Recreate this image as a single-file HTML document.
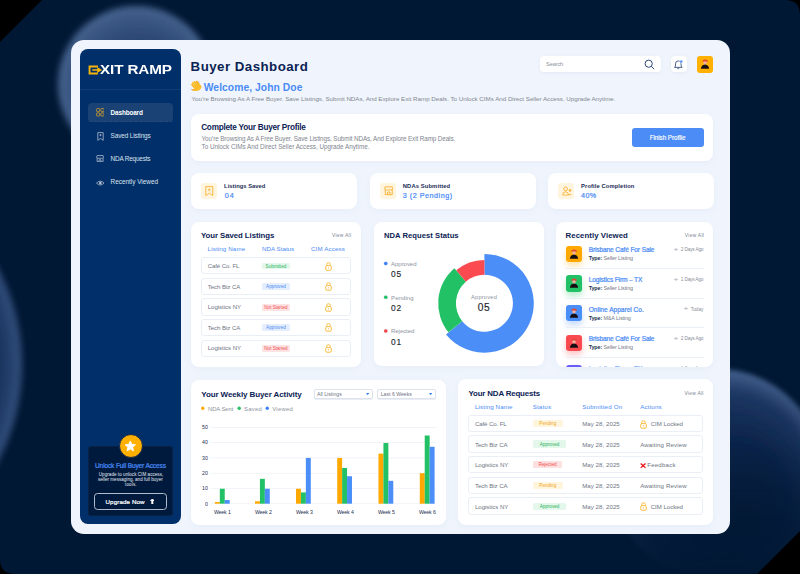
<!DOCTYPE html>
<html><head><meta charset="utf-8">
<style>
*{margin:0;padding:0;box-sizing:border-box}
html,body{width:800px;height:574px;overflow:hidden;background:#000}
body{font-family:"Liberation Sans",sans-serif;position:relative}
.a{position:absolute}
.t{position:absolute;white-space:nowrap;line-height:1}
</style></head>
<body>
<svg class="a" style="left:0;top:0" width="800" height="574" viewBox="0 0 800 574">
<defs>
<radialGradient id="g1" cx="0.5" cy="0.5" r="0.5" fx="0.6" fy="0.7">
<stop offset="0" stop-color="#132f5b"/><stop offset="0.55" stop-color="#213d6a"/><stop offset="0.85" stop-color="#37537f"/><stop offset="1" stop-color="#46638f"/>
</radialGradient>
<radialGradient id="g2" cx="0.5" cy="0.5" r="0.5">
<stop offset="0" stop-color="#071c3e"/><stop offset="0.8" stop-color="#0c2449"/><stop offset="0.93" stop-color="#213c68"/><stop offset="1" stop-color="#34507e"/>
</radialGradient>
<radialGradient id="g3" cx="0.5" cy="0.5" r="0.5" fx="0.66" fy="0.72">
<stop offset="0" stop-color="#08203f"/><stop offset="0.5" stop-color="#0e2751"/><stop offset="0.85" stop-color="#203b68"/><stop offset="1" stop-color="#45628f"/>
</radialGradient>
<filter id="bl" x="-20%" y="-20%" width="140%" height="140%"><feGaussianBlur stdDeviation="3"/></filter>
<linearGradient id="m3g" x1="0" y1="369" x2="0" y2="575" gradientUnits="userSpaceOnUse"><stop offset="0" stop-color="#fff"/><stop offset="0.35" stop-color="#fff" stop-opacity="0.75"/><stop offset="0.75" stop-color="#fff" stop-opacity="0.15"/><stop offset="1" stop-color="#fff" stop-opacity="0"/></linearGradient>
<mask id="m3" maskUnits="userSpaceOnUse" x="0" y="0" width="800" height="574"><rect width="800" height="574" fill="url(#m3g)"/></mask>
<filter id="bl2" x="-20%" y="-20%" width="140%" height="140%"><feGaussianBlur stdDeviation="2.8"/></filter>
<clipPath id="bgc"><path d="M42 0 H785 Q800 0 800 15 V531 L757 574 H15 Q0 574 0 559 V42 Z"/></clipPath>
</defs>
<g clip-path="url(#bgc)">
<rect width="800" height="574" fill="#011834"/>
<circle cx="136" cy="84" r="78" fill="url(#g1)" filter="url(#bl)"/>
<circle cx="-183" cy="365" r="205" fill="url(#g2)" filter="url(#bl)"/>
<g mask="url(#m3)"><circle cx="717" cy="475" r="106" fill="url(#g3)" filter="url(#bl2)"/></g>
</g></svg>
<div class="a" style="left:70.5px;top:40.3px;width:659.5px;height:493.3px;background:#f0f5fd;border-radius:13px"></div>
<div class="a" style="left:80px;top:49.3px;width:101.2px;height:475px;background:#012f69;border-radius:8px"></div>
<div class="a" style="left:80px;top:89.2px;width:101.2px;height:0.9px;background:#113a76"></div>
<svg class="a" style="left:87.5px;top:64.5px" width="15" height="10" viewBox="0 0 15 10">
<path d="M0.6 0.5 H9.9 V2.4 H2.5 V7.6 H9.9 V9.6 H0.6 Z" fill="#f7b50c"/>
<path d="M4.3 4.25 H9.2 V2.1 L14.1 5.05 L9.2 8 V5.85 H4.3 Z" fill="#f7b50c"/>
</svg>
<div class="t" style="left:99.6px;top:64px;font-size:12.7px;font-weight:bold;color:#fff;transform:scaleX(1.2);transform-origin:0 0;letter-spacing:-0.1px">XIT RAMP</div>
<svg class="a" style="left:190px;top:80px" width="13" height="12" viewBox="0 0 13 12">
<g transform="rotate(-40 6.5 6.5)">
<rect x="3.4" y="1.2" width="1.9" height="6" rx="0.95" fill="#f9b827"/>
<rect x="5.2" y="0.4" width="1.9" height="6.5" rx="0.95" fill="#fcc232"/>
<rect x="7.0" y="0.9" width="1.9" height="6" rx="0.95" fill="#f9b827"/>
<rect x="8.8" y="2.0" width="1.8" height="5" rx="0.9" fill="#f7b020"/>
<ellipse cx="7" cy="8" rx="3.6" ry="3.2" fill="#fbbd2c"/>
<rect x="1.5" y="5.5" width="1.8" height="4.2" rx="0.9" transform="rotate(-45 2.4 7.6)" fill="#f7b020"/>
</g>
<path d="M8.2 1.2 L9.5 2.4" stroke="#8c9cb3" stroke-width="0.7"/>
<path d="M1 8.8 L2.2 10" stroke="#8c9cb3" stroke-width="0.7"/>
</svg>
<div class="a" style="left:88px;top:102.8px;width:85px;height:19px;background:#1a4275;border-radius:4px"></div>
<div class="a" style="left:88.5px;top:121.2px;width:84px;height:0;border-top:0.6px dashed #48669a;opacity:0.22"></div>
<svg class="a" style="left:95.6px;top:108.3px" width="8.6" height="8.6" viewBox="0 0 9 9" fill="none" stroke="#d9a22a" stroke-width="0.85">
<rect x="0.6" y="0.6" width="3.3" height="3.3" rx="0.9"/><rect x="5.1" y="0.6" width="3.3" height="3.3" rx="0.9"/>
<rect x="0.6" y="5.1" width="3.3" height="3.3" rx="0.9"/><rect x="5.1" y="5.1" width="3.3" height="3.3" rx="0.9"/></svg>
<svg class="a" style="left:96.6px;top:131.6px" width="7" height="9" viewBox="0 0 7 9" fill="none" stroke="#bcc6d8" stroke-width="0.75">
<path d="M0.8 0.6 H6.2 V8.3 L3.5 6.4 L0.8 8.3 Z"/><path d="M3.5 2 V4.2 M2.4 3.1 H4.6" stroke-width="0.65"/></svg>
<svg class="a" style="left:96.1px;top:154.8px" width="8.4" height="7.4" viewBox="0 0 9 8" fill="none" stroke="#bcc6d8" stroke-width="0.8">
<path d="M1.2 0.6 H7.6 L8.4 2.6 Q7.8 3.8 6.6 3.4 Q5.6 3.9 4.4 3.4 Q3.2 3.9 2.2 3.4 Q1 3.8 0.5 2.6 Z"/><path d="M1.2 3.4 V7.4 H7.6 V3.4"/><path d="M3.2 7.4 V5.2 H5.4 V7.4"/></svg>
<svg class="a" style="left:95.8px;top:179.6px" width="8.6" height="6.2" viewBox="0 0 9 6.5" fill="none" stroke="#bcc6d8" stroke-width="0.75">
<path d="M0.5 3.25 Q4.5 -0.9 8.5 3.25 Q4.5 7.4 0.5 3.25 Z"/><circle cx="4.5" cy="3.25" r="1.1" fill="#bcc6d8"/></svg>
<div class="a" style="left:88px;top:445.8px;width:85.2px;height:70.4px;background:#001a3d;border-radius:4px;box-shadow:inset 0 0 0 1px #0a2246"></div>
<div class="a" style="left:118.5px;top:434px;width:24.2px;height:24.2px;background:#ffb000;border-radius:50%;border:0.8px solid #0d2552"></div>
<svg class="a" style="left:124.3px;top:439.6px" width="12.6" height="12.6" viewBox="0 0 24 24"><path d="M12 1.8 L14.9 8.3 L22 9 L16.6 13.7 L18.2 20.8 L12 17.1 L5.8 20.8 L7.4 13.7 L2 9 L9.1 8.3 Z" fill="#fff" stroke="#fff" stroke-width="1.6" stroke-linejoin="round"/></svg>
<div class="a" style="left:94.2px;top:493.2px;width:73px;height:16.5px;border:1.1px solid #b3bdcc;border-radius:3.5px"></div>
<svg class="a" style="left:149.8px;top:499px" width="4.6" height="5" viewBox="0 0 4.6 5"><path d="M2.3 0.1 Q3.6 0.4 4.4 1.6 Q4.4 2 3.9 2 H3.3 V4.9 H1.3 V2 H0.7 Q0.2 2 0.2 1.6 Q1 0.4 2.3 0.1Z" fill="#fff"/></svg>
<div class="a" style="left:539.5px;top:56.1px;width:121.3px;height:16.2px;background:#fff;border-radius:4px;box-shadow:0 1px 4px rgba(60,90,150,0.08)"></div>
<svg class="a" style="left:643.5px;top:58.5px" width="11" height="11" viewBox="0 0 11 11" fill="none" stroke="#2d4a7a" stroke-width="1"><circle cx="4.7" cy="4.7" r="3.6"/><path d="M7.4 7.4 L9.9 9.9" stroke-linecap="round"/></svg>
<div class="a" style="left:670.8px;top:56.1px;width:16.2px;height:16.2px;background:#fff;border-radius:4px;box-shadow:0 1px 4px rgba(60,90,150,0.08)"></div>
<svg class="a" style="left:673.3px;top:58.6px" width="11" height="11" viewBox="0 0 11 11" fill="none" stroke="#2d4a7a" stroke-width="0.85" stroke-linejoin="round"><path d="M5.3 1.9 Q2.5 1.9 2.5 5 V7 L1.5 8.4 H9.1 L8.1 7 V5 Q8.1 1.9 5.3 1.9 Z"/><path d="M4.3 9.2 Q5.3 10.4 6.3 9.2"/><circle cx="8.2" cy="2.6" r="1.5" fill="#4a8bf5" stroke="#fff" stroke-width="0.5"/></svg>
<div class="a" style="left:697.2px;top:56px;width:16.3px;height:16.5px;background:#ffb000;border-radius:3px"></div>
<svg class="a" style="left:700.40px;top:59.20px" width="10.00" height="10.00" viewBox="0 0 10 10"><path d="M0.9 9.8 Q1.1 5.9 5 5.7 Q8.9 5.9 9.1 9.8 Z" fill="#160c12"/><path d="M4.2 5.2 H5.8 V6.2 H4.2Z" fill="#2a3d5c"/><circle cx="5" cy="3.7" r="1.8" fill="#f2b0a0"/><path d="M2.2 2.9 Q2.4 0.5 5.1 0.6 Q8 0.7 7.9 3.1 Q7 2.2 6 2.5 Q4.8 1.8 3.8 2.6 Q3 2.3 2.2 2.9 Z" fill="#e4463a"/></svg>
<div class="a" style="left:191px;top:113.8px;width:522px;height:47.2px;background:#fff;border-radius:8px;box-shadow:0 2px 8px rgba(60,90,150,0.05)"></div>
<div class="a" style="left:632px;top:128px;width:71.5px;height:18.6px;background:#4c8cf6;border-radius:3px"></div>
<div class="a" style="left:191.3px;top:172.7px;width:165.9px;height:36.8px;background:#fff;border-radius:8px;box-shadow:0 2px 8px rgba(60,90,150,0.05)"></div>
<div class="a" style="left:369.8px;top:172.7px;width:165.9px;height:36.8px;background:#fff;border-radius:8px;box-shadow:0 2px 8px rgba(60,90,150,0.05)"></div>
<div class="a" style="left:547.9px;top:172.7px;width:165.9px;height:36.8px;background:#fff;border-radius:8px;box-shadow:0 2px 8px rgba(60,90,150,0.05)"></div>
<div class="a" style="left:201.0px;top:182.8px;width:16.4px;height:16.3px;background:#fff4de;border-radius:3px"></div>
<div class="a" style="left:380.0px;top:182.8px;width:16.4px;height:16.3px;background:#fff4de;border-radius:3px"></div>
<div class="a" style="left:558.0px;top:182.8px;width:16.4px;height:16.3px;background:#fff4de;border-radius:3px"></div>
<svg class="a" style="left:205px;top:186px" width="8.5" height="10.5" viewBox="0 0 8.5 10.5" fill="none" stroke="#f8b335" stroke-width="0.9"><path d="M0.8 0.6 H7.7 V9.6 L4.25 7.2 L0.8 9.6 Z"/><path d="M4.25 2.4 V5.2 M2.9 3.8 H5.6" stroke-width="0.8"/></svg>
<svg class="a" style="left:383.5px;top:186.3px" width="9.5" height="9.5" viewBox="0 0 9 9" fill="none" stroke="#f8b335" stroke-width="0.9"><path d="M1.2 0.8 H7.8 L8.5 2.8 Q7.9 4 6.7 3.6 Q5.7 4.1 4.5 3.6 Q3.3 4.1 2.3 3.6 Q1.1 4 0.5 2.8 Z"/><path d="M1.2 3.6 V8.2 H7.8 V3.6"/><path d="M3.3 8.2 V5.8 H5.7 V8.2"/></svg>
<svg class="a" style="left:561.8px;top:186.4px" width="10" height="10" viewBox="0 0 10 10" fill="none" stroke="#f8b335" stroke-width="0.9"><circle cx="3.6" cy="2.9" r="1.9"/><path d="M0.6 9 Q0.8 5.8 3.6 5.8 Q6.4 5.8 6.6 9 Z"/><circle cx="8" cy="4.4" r="0.9" fill="#f8b335"/><path d="M6.9 8.6 H9.4" stroke-width="0.9"/></svg>
<div class="a" style="left:191px;top:222px;width:170px;height:144.8px;background:#fff;border-radius:8px;box-shadow:0 2px 8px rgba(60,90,150,0.05)"></div>
<div class="a" style="left:373.6px;top:222px;width:170.2px;height:144.4px;background:#fff;border-radius:8px;box-shadow:0 2px 8px rgba(60,90,150,0.05)"></div>
<div class="a" style="left:556px;top:222px;width:157.4px;height:144.8px;background:#fff;border-radius:8px;box-shadow:0 2px 8px rgba(60,90,150,0.05)"></div>
<div class="a" style="left:201.25px;top:257.30px;width:150.2px;height:17.2px;border:0.9px solid #eaeef6;border-radius:3px"></div>
<div class="a" style="left:262.1px;top:262.75px;width:27.65px;height:6.7px;background:#e3f8ea;border-radius:1.5px"></div>
<div class="t" style="left:262.1px;top:265px;width:27.65px;text-align:center;font-size:4.6px;color:#2bb25f">Submitted</div>
<svg class="a" style="left:324.60px;top:261.65px" width="7" height="9" viewBox="0 0 7 9"><path d="M1.7 3.6 V2.5 A1.8 1.8 0 0 1 5.3 2.5 V3.6" fill="none" stroke="#f9b93a" stroke-width="0.95"/><rect x="0.75" y="3.6" width="5.5" height="4.6" rx="1" fill="none" stroke="#f9b93a" stroke-width="0.95"/><circle cx="3.5" cy="5.8" r="0.6" fill="#f9b93a"/></svg>
<div class="a" style="left:201.25px;top:277.85px;width:150.2px;height:17.2px;border:0.9px solid #eaeef6;border-radius:3px"></div>
<div class="a" style="left:262.1px;top:283.30px;width:27.65px;height:6.7px;background:#e4eefd;border-radius:1.5px"></div>
<div class="t" style="left:262.1px;top:285px;width:27.65px;text-align:center;font-size:4.6px;color:#4a8bf5">Approved</div>
<svg class="a" style="left:324.60px;top:282.20px" width="7" height="9" viewBox="0 0 7 9"><path d="M1.7 3.6 V2.5 A1.8 1.8 0 0 1 5.3 2.5 V3.6" fill="none" stroke="#f9b93a" stroke-width="0.95"/><rect x="0.75" y="3.6" width="5.5" height="4.6" rx="1" fill="none" stroke="#f9b93a" stroke-width="0.95"/><circle cx="3.5" cy="5.8" r="0.6" fill="#f9b93a"/></svg>
<div class="a" style="left:201.25px;top:298.40px;width:150.2px;height:17.2px;border:0.9px solid #eaeef6;border-radius:3px"></div>
<div class="a" style="left:262.1px;top:303.85px;width:27.65px;height:6.7px;background:#fde3e3;border-radius:1.5px"></div>
<div class="t" style="left:262.1px;top:306px;width:27.65px;text-align:center;font-size:4.6px;color:#f05050">Not Started</div>
<svg class="a" style="left:324.60px;top:302.75px" width="7" height="9" viewBox="0 0 7 9"><path d="M1.7 3.6 V2.5 A1.8 1.8 0 0 1 5.3 2.5 V3.6" fill="none" stroke="#f9b93a" stroke-width="0.95"/><rect x="0.75" y="3.6" width="5.5" height="4.6" rx="1" fill="none" stroke="#f9b93a" stroke-width="0.95"/><circle cx="3.5" cy="5.8" r="0.6" fill="#f9b93a"/></svg>
<div class="a" style="left:201.25px;top:318.95px;width:150.2px;height:17.2px;border:0.9px solid #eaeef6;border-radius:3px"></div>
<div class="a" style="left:262.1px;top:324.40px;width:27.65px;height:6.7px;background:#e4eefd;border-radius:1.5px"></div>
<div class="t" style="left:262.1px;top:326px;width:27.65px;text-align:center;font-size:4.6px;color:#4a8bf5">Approved</div>
<svg class="a" style="left:324.60px;top:323.30px" width="7" height="9" viewBox="0 0 7 9"><path d="M1.7 3.6 V2.5 A1.8 1.8 0 0 1 5.3 2.5 V3.6" fill="none" stroke="#f9b93a" stroke-width="0.95"/><rect x="0.75" y="3.6" width="5.5" height="4.6" rx="1" fill="none" stroke="#f9b93a" stroke-width="0.95"/><circle cx="3.5" cy="5.8" r="0.6" fill="#f9b93a"/></svg>
<div class="a" style="left:201.25px;top:339.50px;width:150.2px;height:17.2px;border:0.9px solid #eaeef6;border-radius:3px"></div>
<div class="a" style="left:262.1px;top:344.95px;width:27.65px;height:6.7px;background:#fde3e3;border-radius:1.5px"></div>
<div class="t" style="left:262.1px;top:347px;width:27.65px;text-align:center;font-size:4.6px;color:#f05050">Not Started</div>
<svg class="a" style="left:324.60px;top:343.85px" width="7" height="9" viewBox="0 0 7 9"><path d="M1.7 3.6 V2.5 A1.8 1.8 0 0 1 5.3 2.5 V3.6" fill="none" stroke="#f9b93a" stroke-width="0.95"/><rect x="0.75" y="3.6" width="5.5" height="4.6" rx="1" fill="none" stroke="#f9b93a" stroke-width="0.95"/><circle cx="3.5" cy="5.8" r="0.6" fill="#f9b93a"/></svg>
<svg class="a" style="left:0;top:0;overflow:visible" width="800" height="574">
<path d="M484.40 253.90 A49.4 49.4 0 1 1 446.01 334.39 L462.25 321.24 A28.5 28.5 0 1 0 484.40 274.80 Z" fill="#4b8ef8"/>
<path d="M448.50 332.37 A46.2 46.2 0 0 1 454.40 268.17 L465.89 281.63 A28.5 28.5 0 0 0 462.25 321.24 Z" fill="#23c166"/>
<path d="M456.21 270.30 A43.4 43.4 0 0 1 484.40 259.90 L484.40 274.80 A28.5 28.5 0 0 0 465.89 281.63 Z" fill="#fb4b50"/>
<circle cx="385.75" cy="263.5" r="2.4" fill="#eef2f8"/><circle cx="385.75" cy="263.5" r="1.8" fill="#3f82f5"/>
<circle cx="385.75" cy="297.25" r="2.4" fill="#eef2f8"/><circle cx="385.75" cy="297.25" r="1.8" fill="#23c166"/>
<circle cx="385.75" cy="331" r="2.4" fill="#eef2f8"/><circle cx="385.75" cy="331" r="1.8" fill="#f24545"/>
</svg>
<div class="a" style="left:556px;top:222px;width:157.4px;height:144.8px;overflow:hidden;border-radius:8px">
<div class="a" style="left:10.2px;top:23.70px;width:16.2px;height:16.2px;background:#ffa800;border-radius:3px;box-shadow:0 4px 6px #ffa80050"></div>
<svg class="a" style="left:13.30px;top:26.60px" width="10.00" height="10.00" viewBox="0 0 10 10"><path d="M0.9 9.8 Q1.1 5.9 5 5.7 Q8.9 5.9 9.1 9.8 Z" fill="#160c12"/><path d="M4.2 5.2 H5.8 V6.2 H4.2Z" fill="#2a3d5c"/><circle cx="5" cy="3.7" r="1.8" fill="#f2b0a0"/><path d="M2.2 2.9 Q2.4 0.5 5.1 0.6 Q8 0.7 7.9 3.1 Q7 2.2 6 2.5 Q4.8 1.8 3.8 2.6 Q3 2.3 2.2 2.9 Z" fill="#e4463a"/></svg>
<div class="a" style="left:10px;top:45.80px;width:137.6px;height:0.8px;background:#eaeef6"></div>
<svg class="a" style="left:118.20px;top:25.90px" width="4" height="3" viewBox="0 0 4 3" fill="none" stroke="#a3aab6" stroke-width="0.55"><path d="M0.3 1.5 Q2 -0.3 3.7 1.5 Q2 3.3 0.3 1.5 Z"/><circle cx="2" cy="1.5" r="0.55" fill="#a3aab6" stroke="none"/></svg>
<div class="a" style="left:10.2px;top:53.40px;width:16.2px;height:16.2px;background:#23c166;border-radius:3px;box-shadow:0 4px 6px #23c16650"></div>
<svg class="a" style="left:13.30px;top:56.30px" width="10.00" height="10.00" viewBox="0 0 10 10"><path d="M0.9 9.8 Q1.1 5.9 5 5.7 Q8.9 5.9 9.1 9.8 Z" fill="#160c12"/><path d="M4.2 5.2 H5.8 V6.2 H4.2Z" fill="#2a3d5c"/><circle cx="5" cy="3.7" r="1.8" fill="#f2b0a0"/><path d="M2.2 2.9 Q2.4 0.5 5.1 0.6 Q8 0.7 7.9 3.1 Q7 2.2 6 2.5 Q4.8 1.8 3.8 2.6 Q3 2.3 2.2 2.9 Z" fill="#e4463a"/></svg>
<div class="a" style="left:10px;top:75.50px;width:137.6px;height:0.8px;background:#eaeef6"></div>
<svg class="a" style="left:117.80px;top:55.60px" width="4" height="3" viewBox="0 0 4 3" fill="none" stroke="#a3aab6" stroke-width="0.55"><path d="M0.3 1.5 Q2 -0.3 3.7 1.5 Q2 3.3 0.3 1.5 Z"/><circle cx="2" cy="1.5" r="0.55" fill="#a3aab6" stroke="none"/></svg>
<div class="a" style="left:10.2px;top:83.10px;width:16.2px;height:16.2px;background:#4a8ef7;border-radius:3px;box-shadow:0 4px 6px #4a8ef750"></div>
<svg class="a" style="left:13.30px;top:86.00px" width="10.00" height="10.00" viewBox="0 0 10 10"><path d="M0.9 9.8 Q1.1 5.9 5 5.7 Q8.9 5.9 9.1 9.8 Z" fill="#160c12"/><path d="M4.2 5.2 H5.8 V6.2 H4.2Z" fill="#2a3d5c"/><circle cx="5" cy="3.7" r="1.8" fill="#f2b0a0"/><path d="M2.2 2.9 Q2.4 0.5 5.1 0.6 Q8 0.7 7.9 3.1 Q7 2.2 6 2.5 Q4.8 1.8 3.8 2.6 Q3 2.3 2.2 2.9 Z" fill="#e4463a"/></svg>
<div class="a" style="left:10px;top:105.20px;width:137.6px;height:0.8px;background:#eaeef6"></div>
<svg class="a" style="left:128.00px;top:85.30px" width="4" height="3" viewBox="0 0 4 3" fill="none" stroke="#a3aab6" stroke-width="0.55"><path d="M0.3 1.5 Q2 -0.3 3.7 1.5 Q2 3.3 0.3 1.5 Z"/><circle cx="2" cy="1.5" r="0.55" fill="#a3aab6" stroke="none"/></svg>
<div class="a" style="left:10.2px;top:112.80px;width:16.2px;height:16.2px;background:#f94b4f;border-radius:3px;box-shadow:0 4px 6px #f94b4f50"></div>
<svg class="a" style="left:13.30px;top:115.70px" width="10.00" height="10.00" viewBox="0 0 10 10"><path d="M0.9 9.8 Q1.1 5.9 5 5.7 Q8.9 5.9 9.1 9.8 Z" fill="#160c12"/><path d="M4.2 5.2 H5.8 V6.2 H4.2Z" fill="#2a3d5c"/><circle cx="5" cy="3.7" r="1.8" fill="#f2b0a0"/><path d="M2.2 2.9 Q2.4 0.5 5.1 0.6 Q8 0.7 7.9 3.1 Q7 2.2 6 2.5 Q4.8 1.8 3.8 2.6 Q3 2.3 2.2 2.9 Z" fill="#e4463a"/></svg>
<div class="a" style="left:10px;top:134.90px;width:137.6px;height:0.8px;background:#eaeef6"></div>
<svg class="a" style="left:118.20px;top:115.00px" width="4" height="3" viewBox="0 0 4 3" fill="none" stroke="#a3aab6" stroke-width="0.55"><path d="M0.3 1.5 Q2 -0.3 3.7 1.5 Q2 3.3 0.3 1.5 Z"/><circle cx="2" cy="1.5" r="0.55" fill="#a3aab6" stroke="none"/></svg>
<div class="a" style="left:10.2px;top:142.50px;width:16.2px;height:16.2px;background:#6a5cf6;border-radius:3px;box-shadow:0 4px 6px #6a5cf650"></div>
<svg class="a" style="left:13.30px;top:145.40px" width="10.00" height="10.00" viewBox="0 0 10 10"><path d="M0.9 9.8 Q1.1 5.9 5 5.7 Q8.9 5.9 9.1 9.8 Z" fill="#160c12"/><path d="M4.2 5.2 H5.8 V6.2 H4.2Z" fill="#2a3d5c"/><circle cx="5" cy="3.7" r="1.8" fill="#f2b0a0"/><path d="M2.2 2.9 Q2.4 0.5 5.1 0.6 Q8 0.7 7.9 3.1 Q7 2.2 6 2.5 Q4.8 1.8 3.8 2.6 Q3 2.3 2.2 2.9 Z" fill="#e4463a"/></svg>
<svg class="a" style="left:117.80px;top:144.70px" width="4" height="3" viewBox="0 0 4 3" fill="none" stroke="#a3aab6" stroke-width="0.55"><path d="M0.3 1.5 Q2 -0.3 3.7 1.5 Q2 3.3 0.3 1.5 Z"/><circle cx="2" cy="1.5" r="0.55" fill="#a3aab6" stroke="none"/></svg>
</div>
<div class="a" style="left:191px;top:379.5px;width:255px;height:145.1px;background:#fff;border-radius:8px;box-shadow:0 2px 8px rgba(60,90,150,0.05)"></div>
<div class="a" style="left:458.3px;top:379.4px;width:255.1px;height:145.3px;background:#fff;border-radius:8px;box-shadow:0 2px 8px rgba(60,90,150,0.05)"></div>
<div class="a" style="left:313.6px;top:389.2px;width:59.3px;height:10.2px;background:#fff;border:0.8px solid #dde3ec;border-radius:2px;box-shadow:0 0.8px 0 #e3e8f0"></div>
<div class="a" style="left:377.1px;top:389.2px;width:59.3px;height:10.2px;background:#fff;border:0.8px solid #dde3ec;border-radius:2px;box-shadow:0 0.8px 0 #e3e8f0"></div>
<svg class="a" style="left:365.5px;top:393.2px" width="3.2" height="2.4" viewBox="0 0 3.2 2.4"><path d="M0 0 H3.2 L1.6 2.2Z" fill="#3f82f5"/></svg>
<svg class="a" style="left:429.1px;top:393.2px" width="3.2" height="2.4" viewBox="0 0 3.2 2.4"><path d="M0 0 H3.2 L1.6 2.2Z" fill="#3f82f5"/></svg>
<svg class="a" style="left:0;top:0;overflow:visible" width="800" height="574"><circle cx="202.75" cy="408.3" r="1.7" fill="#ffa800"/><circle cx="239.2" cy="408.3" r="1.7" fill="#23c166"/><circle cx="267.25" cy="408.3" r="1.7" fill="#3f82f5"/><rect x="211" y="503.30" width="225.1" height="0.8" fill="#eef1f7"/><rect x="211" y="488.10" width="225.1" height="0.8" fill="#eef1f7"/><rect x="211" y="472.90" width="225.1" height="0.8" fill="#eef1f7"/><rect x="211" y="457.60" width="225.1" height="0.8" fill="#eef1f7"/><rect x="211" y="442.20" width="225.1" height="0.8" fill="#eef1f7"/><rect x="211" y="427.00" width="225.1" height="0.8" fill="#eef1f7"/><rect x="214.90" y="502.02" width="4.93" height="1.68" fill="#ffa800"/><rect x="219.83" y="488.75" width="4.93" height="14.95" fill="#23c166"/><rect x="224.76" y="500.04" width="4.93" height="3.66" fill="#4b8ef8"/><rect x="255.00" y="501.26" width="4.93" height="2.44" fill="#ffa800"/><rect x="259.93" y="478.83" width="4.93" height="24.87" fill="#23c166"/><rect x="264.86" y="488.75" width="4.93" height="14.95" fill="#4b8ef8"/><rect x="296.00" y="488.75" width="4.93" height="14.95" fill="#ffa800"/><rect x="300.93" y="492.41" width="4.93" height="11.29" fill="#23c166"/><rect x="305.86" y="457.92" width="4.93" height="45.78" fill="#4b8ef8"/><rect x="337.20" y="457.92" width="4.93" height="45.78" fill="#ffa800"/><rect x="342.13" y="467.99" width="4.93" height="35.71" fill="#23c166"/><rect x="347.06" y="476.23" width="4.93" height="27.47" fill="#4b8ef8"/><rect x="378.50" y="453.65" width="4.93" height="50.05" fill="#ffa800"/><rect x="383.43" y="442.97" width="4.93" height="60.73" fill="#23c166"/><rect x="388.36" y="480.81" width="4.93" height="22.89" fill="#4b8ef8"/><rect x="419.80" y="473.18" width="4.93" height="30.52" fill="#ffa800"/><rect x="424.73" y="435.49" width="4.93" height="68.21" fill="#23c166"/><rect x="429.66" y="446.78" width="4.93" height="56.92" fill="#4b8ef8"/></svg>
<div class="a" style="left:468px;top:414.50px;width:235.3px;height:17.6px;border:0.9px solid #eaeef6;border-radius:3px"></div>
<div class="a" style="left:533px;top:419.75px;width:29.6px;height:7.3px;background:#fff4dc;border-radius:1.5px"></div>
<div class="t" style="left:533px;top:422px;width:29.6px;text-align:center;font-size:4.6px;color:#f1a51c">Pending</div>
<svg class="a" style="left:640.40px;top:419.60px" width="7" height="9" viewBox="0 0 7 9"><path d="M1.7 3.6 V2.5 A1.8 1.8 0 0 1 5.3 2.5 V3.6" fill="none" stroke="#f9b93a" stroke-width="0.95"/><rect x="0.75" y="3.6" width="5.5" height="4.6" rx="1" fill="none" stroke="#f9b93a" stroke-width="0.95"/><circle cx="3.5" cy="5.8" r="0.6" fill="#f9b93a"/></svg>
<div class="a" style="left:468px;top:435.20px;width:235.3px;height:17.6px;border:0.9px solid #eaeef6;border-radius:3px"></div>
<div class="a" style="left:533px;top:440.45px;width:33.0px;height:7.3px;background:#e3f8ea;border-radius:1.5px"></div>
<div class="t" style="left:533px;top:443px;width:33.0px;text-align:center;font-size:4.6px;color:#2bb25f">Approved</div>
<div class="a" style="left:468px;top:455.90px;width:235.3px;height:17.6px;border:0.9px solid #eaeef6;border-radius:3px"></div>
<div class="a" style="left:533px;top:461.15px;width:29.0px;height:7.3px;background:#fde0e0;border-radius:1.5px"></div>
<div class="t" style="left:533px;top:463px;width:29.0px;text-align:center;font-size:4.6px;color:#f05050">Rejected</div>
<svg class="a" style="left:639.8px;top:463.20px" width="6.2" height="5.4" viewBox="0 0 6.2 5.4"><path d="M0.7 0.5 L5.5 4.9 M5.5 0.5 L0.7 4.9" stroke="#e8141a" stroke-width="1.3"/></svg>
<div class="a" style="left:468px;top:476.60px;width:235.3px;height:17.6px;border:0.9px solid #eaeef6;border-radius:3px"></div>
<div class="a" style="left:533px;top:481.85px;width:29.6px;height:7.3px;background:#fff4dc;border-radius:1.5px"></div>
<div class="t" style="left:533px;top:484px;width:29.6px;text-align:center;font-size:4.6px;color:#f1a51c">Pending</div>
<div class="a" style="left:468px;top:497.30px;width:235.3px;height:17.6px;border:0.9px solid #eaeef6;border-radius:3px"></div>
<div class="a" style="left:533px;top:502.55px;width:33.0px;height:7.3px;background:#e3f8ea;border-radius:1.5px"></div>
<div class="t" style="left:533px;top:505px;width:33.0px;text-align:center;font-size:4.6px;color:#2bb25f">Approved</div>
<svg class="a" style="left:640.40px;top:502.40px" width="7" height="9" viewBox="0 0 7 9"><path d="M1.7 3.6 V2.5 A1.8 1.8 0 0 1 5.3 2.5 V3.6" fill="none" stroke="#f9b93a" stroke-width="0.95"/><rect x="0.75" y="3.6" width="5.5" height="4.6" rx="1" fill="none" stroke="#f9b93a" stroke-width="0.95"/><circle cx="3.5" cy="5.8" r="0.6" fill="#f9b93a"/></svg>
<div class="t" style="left:110.60px;top:110px;font-size:6.4px;color:#ffffff;font-weight:bold;letter-spacing:-0.138px;">Dashboard</div>
<div class="t" style="left:110.60px;top:133px;font-size:6.4px;color:#dce3ee;letter-spacing:-0.108px;">Saved Listings</div>
<div class="t" style="left:110.60px;top:156px;font-size:6.4px;color:#dce3ee;letter-spacing:-0.182px;">NDA Requests</div>
<div class="t" style="left:110.60px;top:179px;font-size:6.4px;color:#dce3ee;letter-spacing:-0.007px;">Recently Viewed</div>
<div class="t" style="left:95.00px;top:463px;font-size:6.6px;color:#4a8bf5;letter-spacing:-0.148px;-webkit-text-stroke:0.22px currentColor;">Unlock Full Buyer Access</div>
<div class="t" style="left:98.80px;top:473px;font-size:4.5px;color:#e8edf5;letter-spacing:0.068px;">Upgrade to unlock CIM access,</div>
<div class="t" style="left:98.00px;top:478px;font-size:4.5px;color:#e8edf5;letter-spacing:0.045px;">seller messaging, and full buyer</div>
<div class="t" style="left:125.00px;top:483px;font-size:4.5px;color:#e8edf5;letter-spacing:0.160px;">tools.</div>
<div class="t" style="left:105.50px;top:499px;font-size:6.2px;color:#ffffff;letter-spacing:0.120px;-webkit-text-stroke:0.22px currentColor;">Upgrade Now</div>
<div class="t" style="left:190.60px;top:60px;font-size:13.3px;color:#0b2254;font-weight:bold;letter-spacing:0.457px;">Buyer Dashboard</div>
<div class="t" style="left:203.75px;top:83px;font-size:10.3px;color:#4a8bf5;font-weight:bold;letter-spacing:0.062px;">Welcome, John Doe</div>
<div class="t" style="left:191.50px;top:96px;font-size:6.2px;color:#80868f;">You&#8217;re Browsing As A Free Buyer. Save Listings, Submit NDAs, And Explore Exit Ramp Deals. To Unlock CIMs And Direct Seller Access, Upgrade Anytime.</div>
<div class="t" style="left:546.00px;top:62px;font-size:5.6px;color:#8a92a0;letter-spacing:-0.100px;">Search</div>
<div class="t" style="left:201.20px;top:124px;font-size:8.2px;color:#0b2254;font-weight:bold;letter-spacing:-0.231px;">Complete Your Buyer Profile</div>
<div class="t" style="left:201.50px;top:136px;font-size:6.3px;color:#80868f;letter-spacing:-0.093px;">You&#8217;re Browsing As A Free Buyer. Save Listings, Submit NDAs, And Explore Exit Ramp Deals.</div>
<div class="t" style="left:201.50px;top:144px;font-size:6.3px;color:#80868f;">To Unlock CIMs And Direct Seller Access, Upgrade Anytime.</div>
<div class="t" style="left:649.65px;top:135px;font-size:6.3px;color:#ffffff;letter-spacing:-0.046px;-webkit-text-stroke:0.15px currentColor;">Finish Profile</div>
<div class="t" style="left:224.10px;top:184px;font-size:5.8px;color:#1b2b55;font-weight:bold;letter-spacing:0.023px;">Listings Saved</div>
<div class="t" style="left:224.70px;top:192px;font-size:7.2px;color:#4a8bf5;letter-spacing:1.000px;-webkit-text-stroke:0.22px currentColor;">04</div>
<div class="t" style="left:402.80px;top:184px;font-size:5.8px;color:#1b2b55;font-weight:bold;letter-spacing:0.123px;">NDAs Submitted</div>
<div class="t" style="left:402.80px;top:192px;font-size:7.2px;color:#4a8bf5;letter-spacing:0.508px;-webkit-text-stroke:0.22px currentColor;">3 (2 Pending)</div>
<div class="t" style="left:581.10px;top:184px;font-size:5.8px;color:#1b2b55;font-weight:bold;letter-spacing:0.100px;">Profile Completion</div>
<div class="t" style="left:581.10px;top:192px;font-size:7.2px;color:#4a8bf5;letter-spacing:0.300px;-webkit-text-stroke:0.22px currentColor;">40%</div>
<div class="t" style="left:201.00px;top:232px;font-size:7.8px;color:#0b2254;font-weight:bold;letter-spacing:-0.056px;">Your Saved Listings</div>
<div class="t" style="left:332.00px;top:234px;font-size:4.9px;color:#7c8594;letter-spacing:0.286px;">View All</div>
<div class="t" style="left:207.60px;top:246px;font-size:6.2px;color:#4a8bf5;letter-spacing:0.127px;">Listing Name</div>
<div class="t" style="left:262.00px;top:246px;font-size:6.2px;color:#4a8bf5;letter-spacing:0.022px;">NDA Status</div>
<div class="t" style="left:311.00px;top:246px;font-size:6.2px;color:#4a8bf5;letter-spacing:0.133px;">CIM Access</div>
<div class="t" style="left:207.75px;top:263px;font-size:6.1px;color:#6e7583;letter-spacing:-0.120px;">Caf&eacute; Co. FL</div>
<div class="t" style="left:207.75px;top:284px;font-size:6.1px;color:#6e7583;letter-spacing:-0.060px;">Tech Biz CA</div>
<div class="t" style="left:207.75px;top:304px;font-size:6.1px;color:#6e7583;letter-spacing:-0.045px;">Logistics NY</div>
<div class="t" style="left:207.75px;top:325px;font-size:6.1px;color:#6e7583;letter-spacing:-0.060px;">Tech Biz CA</div>
<div class="t" style="left:207.75px;top:345px;font-size:6.1px;color:#6e7583;letter-spacing:-0.045px;">Logistics NY</div>
<div class="t" style="left:384.00px;top:232px;font-size:7.6px;color:#0b2254;font-weight:bold;letter-spacing:0.059px;">NDA Request Status</div>
<div class="t" style="left:391.10px;top:261px;font-size:6.0px;color:#8c93a0;letter-spacing:-0.043px;">Approved</div>
<div class="t" style="left:390.90px;top:270px;font-size:8.4px;color:#1a1e2b;letter-spacing:1.000px;-webkit-text-stroke:0.12px #1a1e2b;">05</div>
<div class="t" style="left:391.10px;top:295px;font-size:6.0px;color:#8c93a0;letter-spacing:0.083px;">Pending</div>
<div class="t" style="left:390.90px;top:304px;font-size:8.4px;color:#1a1e2b;letter-spacing:1.000px;-webkit-text-stroke:0.12px #1a1e2b;">02</div>
<div class="t" style="left:391.10px;top:328px;font-size:6.0px;color:#8c93a0;letter-spacing:-0.071px;">Rejected</div>
<div class="t" style="left:390.90px;top:338px;font-size:8.4px;color:#1a1e2b;letter-spacing:1.000px;-webkit-text-stroke:0.12px #1a1e2b;">01</div>
<div class="t" style="left:471.00px;top:295px;font-size:5.7px;color:#8c93a0;letter-spacing:0.214px;">Approved</div>
<div class="t" style="left:477.75px;top:303px;font-size:10.2px;color:#1a1e2b;letter-spacing:0.500px;-webkit-text-stroke:0.15px #1a1e2b;">05</div>
<div class="t" style="left:565.60px;top:232px;font-size:7.8px;color:#0b2254;font-weight:bold;letter-spacing:0.064px;">Recently Viewed</div>
<div class="t" style="left:684.80px;top:234px;font-size:4.9px;color:#7c8594;letter-spacing:0.286px;">View All</div>
<div class="t" style="left:588.70px;top:247px;font-size:6.6px;color:#4a8bf5;letter-spacing:-0.133px;-webkit-text-stroke:0.22px currentColor;">Brisbane Caf&eacute; For Sale</div>
<div class="t" style="left:588.70px;top:256px;font-size:5.4px;color:#737a87;letter-spacing:-0.105px;"><b style="color:#22304f">Type:</b> Seller Listing</div>
<div class="t" style="left:680.80px;top:248px;font-size:4.8px;color:#8a909b;letter-spacing:-0.200px;">2 Days Ago</div>
<div class="t" style="left:588.70px;top:277px;font-size:6.6px;color:#4a8bf5;letter-spacing:-0.144px;-webkit-text-stroke:0.22px currentColor;">Logistics Firm &ndash; TX</div>
<div class="t" style="left:588.70px;top:286px;font-size:5.4px;color:#737a87;letter-spacing:-0.105px;"><b style="color:#22304f">Type:</b> Seller Listing</div>
<div class="t" style="left:680.80px;top:278px;font-size:4.8px;color:#8a909b;letter-spacing:-0.211px;">1 Days Ago</div>
<div class="t" style="left:588.70px;top:307px;font-size:6.6px;color:#4a8bf5;letter-spacing:-0.012px;-webkit-text-stroke:0.22px currentColor;">Online Apparel Co.</div>
<div class="t" style="left:588.70px;top:316px;font-size:5.4px;color:#737a87;letter-spacing:-0.113px;"><b style="color:#22304f">Type:</b> M&amp;A Listing</div>
<div class="t" style="left:690.80px;top:308px;font-size:4.8px;color:#8a909b;letter-spacing:-0.025px;">Today</div>
<div class="t" style="left:588.70px;top:336px;font-size:6.6px;color:#4a8bf5;letter-spacing:-0.133px;-webkit-text-stroke:0.22px currentColor;">Brisbane Caf&eacute; For Sale</div>
<div class="t" style="left:588.70px;top:345px;font-size:5.4px;color:#737a87;letter-spacing:-0.105px;"><b style="color:#22304f">Type:</b> Seller Listing</div>
<div class="t" style="left:680.80px;top:337px;font-size:4.8px;color:#8a909b;letter-spacing:-0.200px;">2 Days Ago</div>
<div class="t" style="left:588.70px;top:366px;font-size:6.6px;color:#4a8bf5;letter-spacing:-0.144px;-webkit-text-stroke:0.22px currentColor;clip-path:polygon(-50% -50%,150% -50%,150% 0.80px,-50% 0.80px);">Logistics Firm &ndash; TX</div>
<div class="t" style="left:588.70px;top:375px;font-size:5.4px;color:#737a87;letter-spacing:-0.105px;clip-path:polygon(-50% -50%,150% -50%,150% -8.20px,-50% -8.20px);"><b style="color:#22304f">Type:</b> Seller Listing</div>
<div class="t" style="left:680.80px;top:367px;font-size:4.8px;color:#8a909b;letter-spacing:-0.211px;clip-path:polygon(-50% -50%,150% -50%,150% -0.20px,-50% -0.20px);">1 Days Ago</div>
<div class="t" style="left:201.25px;top:391px;font-size:8.0px;color:#0b2254;font-weight:bold;letter-spacing:-0.100px;">Your Weekly Buyer Activity</div>
<div class="t" style="left:317.00px;top:392px;font-size:5.2px;color:#6f7684;">All Listings</div>
<div class="t" style="left:380.70px;top:392px;font-size:5.2px;color:#6f7684;letter-spacing:-0.009px;">Last 6 Weeks</div>
<div class="t" style="left:208.00px;top:407px;font-size:5.9px;color:#8c93a0;letter-spacing:-0.086px;">NDA Sent</div>
<div class="t" style="left:244.00px;top:407px;font-size:5.9px;color:#8c93a0;letter-spacing:0.250px;">Saved</div>
<div class="t" style="left:272.20px;top:407px;font-size:5.9px;color:#8c93a0;letter-spacing:0.300px;">Viewed</div>
<div class="t" style="left:205.00px;top:502px;font-size:5.2px;color:#22304f;">0</div>
<div class="t" style="left:202.00px;top:486px;font-size:5.2px;color:#22304f;">10</div>
<div class="t" style="left:202.00px;top:471px;font-size:5.2px;color:#22304f;">20</div>
<div class="t" style="left:202.00px;top:456px;font-size:5.2px;color:#22304f;">30</div>
<div class="t" style="left:202.00px;top:440px;font-size:5.2px;color:#22304f;">40</div>
<div class="t" style="left:202.00px;top:425px;font-size:5.2px;color:#22304f;">50</div>
<div class="t" style="left:213.90px;top:510px;font-size:5.2px;color:#22304f;letter-spacing:-0.120px;">Week 1</div>
<div class="t" style="left:254.90px;top:510px;font-size:5.2px;color:#22304f;letter-spacing:-0.120px;">Week 2</div>
<div class="t" style="left:295.90px;top:510px;font-size:5.2px;color:#22304f;letter-spacing:-0.120px;">Week 3</div>
<div class="t" style="left:336.90px;top:510px;font-size:5.2px;color:#22304f;letter-spacing:-0.120px;">Week 4</div>
<div class="t" style="left:377.90px;top:510px;font-size:5.2px;color:#22304f;letter-spacing:-0.120px;">Week 5</div>
<div class="t" style="left:418.90px;top:510px;font-size:5.2px;color:#22304f;letter-spacing:-0.120px;">Week 6</div>
<div class="t" style="left:468.50px;top:390px;font-size:7.9px;color:#0b2254;font-weight:bold;letter-spacing:-0.156px;">Your NDA Requests</div>
<div class="t" style="left:684.40px;top:392px;font-size:4.9px;color:#7c8594;letter-spacing:0.286px;">View All</div>
<div class="t" style="left:475.00px;top:404px;font-size:6.2px;color:#4a8bf5;letter-spacing:0.127px;">Listing Name</div>
<div class="t" style="left:532.70px;top:404px;font-size:6.2px;color:#4a8bf5;letter-spacing:0.160px;">Status</div>
<div class="t" style="left:582.20px;top:404px;font-size:6.2px;color:#4a8bf5;letter-spacing:0.200px;">Submitted On</div>
<div class="t" style="left:640.20px;top:404px;font-size:6.2px;color:#4a8bf5;letter-spacing:0.200px;">Actions</div>
<div class="t" style="left:475.00px;top:421px;font-size:6.1px;color:#6e7583;letter-spacing:-0.120px;">Caf&eacute; Co. FL</div>
<div class="t" style="left:582.20px;top:421px;font-size:6.1px;color:#6e7583;letter-spacing:0.055px;">May 28, 2025</div>
<div class="t" style="left:650.75px;top:421px;font-size:6.1px;color:#6e7583;letter-spacing:-0.028px;">CIM Locked</div>
<div class="t" style="left:475.00px;top:442px;font-size:6.1px;color:#6e7583;letter-spacing:-0.060px;">Tech Biz CA</div>
<div class="t" style="left:582.20px;top:442px;font-size:6.1px;color:#6e7583;letter-spacing:0.055px;">May 28, 2025</div>
<div class="t" style="left:640.20px;top:442px;font-size:6.1px;color:#6e7583;letter-spacing:0.129px;">Awaiting Review</div>
<div class="t" style="left:475.00px;top:462px;font-size:6.1px;color:#6e7583;letter-spacing:-0.045px;">Logistics NY</div>
<div class="t" style="left:582.20px;top:462px;font-size:6.1px;color:#6e7583;letter-spacing:0.055px;">May 28, 2025</div>
<div class="t" style="left:647.20px;top:462px;font-size:6.1px;color:#6e7583;letter-spacing:0.229px;">Feedback</div>
<div class="t" style="left:475.00px;top:483px;font-size:6.1px;color:#6e7583;letter-spacing:-0.060px;">Tech Biz CA</div>
<div class="t" style="left:582.20px;top:483px;font-size:6.1px;color:#6e7583;letter-spacing:0.055px;">May 28, 2025</div>
<div class="t" style="left:640.20px;top:483px;font-size:6.1px;color:#6e7583;letter-spacing:0.129px;">Awaiting Review</div>
<div class="t" style="left:475.00px;top:504px;font-size:6.1px;color:#6e7583;letter-spacing:-0.045px;">Logistics NY</div>
<div class="t" style="left:582.20px;top:504px;font-size:6.1px;color:#6e7583;letter-spacing:0.055px;">May 28, 2025</div>
<div class="t" style="left:650.75px;top:504px;font-size:6.1px;color:#6e7583;letter-spacing:-0.028px;">CIM Locked</div>
</body></html>
